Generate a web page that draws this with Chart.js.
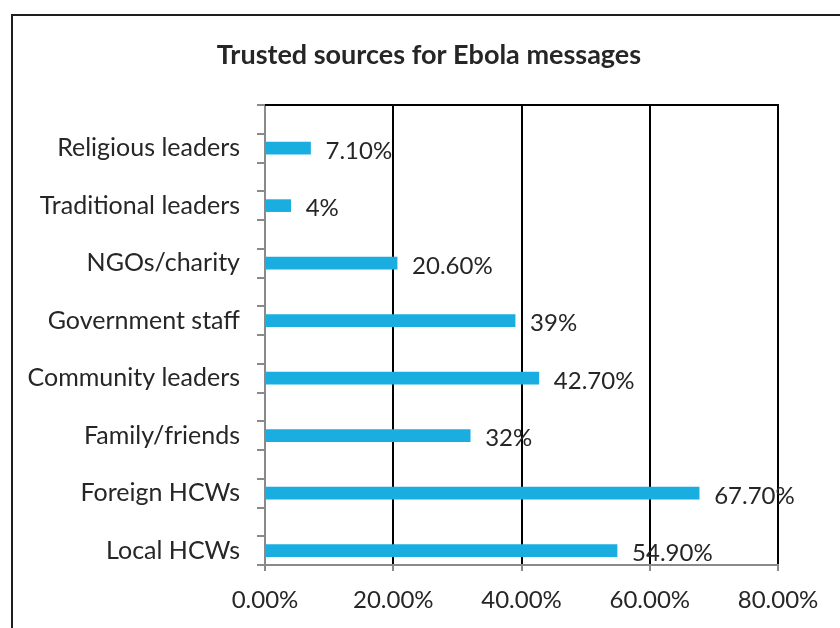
<!DOCTYPE html>
<html>
<head>
<meta charset="utf-8">
<script src="https://cdn.jsdelivr.net/npm/chart.js@4.4.1/dist/chart.umd.min.js"></script>
<style>
html,body{margin:0;padding:0;background:#fff;}
#wrap{position:relative;width:840px;height:628px;}
</style>
</head>
<body>
<div id="wrap"><canvas id="c" width="840" height="628"></canvas></div>
<script>
const chartTitle = "Trusted sources for Ebola messages";
const categories = ["Religious leaders","Traditional leaders","NGOs/charity","Government staff","Community leaders","Family/friends","Foreign HCWs","Local HCWs"];
const values = [7.1, 4, 20.6, 39, 42.7, 32, 67.7, 54.9];
const valueLabels = ["7.10%","4%","20.60%","39%","42.70%","32%","67.70%","54.90%"];
const xTicks = [0, 20, 40, 60, 80];

// Each category occupies two axis slots (an empty upper slot and the bar slot), as in the original axis.
const slotLabels = [];
const slotValues = [];
const slotText = [];
categories.forEach((c, i) => {
  slotLabels.push(""); slotValues.push(null); slotText.push(null);
  slotLabels.push(c); slotValues.push(values[i]); slotText.push(valueLabels[i]);
});

const FONT = "Lato, 'Open Sans', sans-serif";
const TXT = "#262626";

const framePlugin = {
  id: 'frame',
  beforeDraw(chart) {
    const ctx = chart.ctx;
    ctx.save();
    ctx.fillStyle = '#fff';
    ctx.fillRect(0, 0, chart.width, chart.height);
    ctx.strokeStyle = '#1e1e1e';
    ctx.lineWidth = 2;
    ctx.beginPath();
    ctx.moveTo(12, chart.height);
    ctx.lineTo(12, 15);
    ctx.lineTo(chart.width, 15);
    ctx.stroke();
    ctx.restore();
  },
  afterDraw(chart) {
    const ctx = chart.ctx;
    const a = chart.chartArea;
    ctx.save();
    ctx.strokeStyle = '#000';
    ctx.lineWidth = 2;
    ctx.beginPath();
    ctx.moveTo(a.left, a.top);
    ctx.lineTo(a.right + 1, a.top);
    ctx.stroke();
    ctx.fillStyle = TXT;
    ctx.font = "bold 27px " + FONT;
    ctx.textAlign = 'center';
    ctx.textBaseline = 'middle';
    ctx.fillText(chartTitle, 429, 55);
    ctx.font = "24px " + FONT;
    ctx.textAlign = 'left';
    const meta = chart.getDatasetMeta(0);
    meta.data.forEach((bar, i) => {
      if (slotText[i] === null) return;
      ctx.fillText(slotText[i], bar.x + 15, bar.y + 3);
    });
    ctx.restore();
  }
};

new Chart(document.getElementById('c'), {
  type: 'bar',
  data: {
    labels: slotLabels,
    datasets: [{
      data: slotValues,
      backgroundColor: '#1aade0',
      borderWidth: 0,
      barThickness: 12
    }]
  },
  options: {
    indexAxis: 'y',
    responsive: false,
    animation: false,
    devicePixelRatio: 1,
    layout: { padding: { left: 12, top: 105, right: 62, bottom: 0 } },
    plugins: { legend: { display: false }, title: { display: false }, tooltip: { enabled: false } },
    scales: {
      x: {
        min: 0, max: 80,
        afterBuildTicks(scale) { scale.ticks = xTicks.map(v => ({ value: v })); },
        afterFit(scale) { scale.height = 63; },
        ticks: {
          callback: v => v.toFixed(2) + '%',
          font: { family: FONT, size: 24 },
          color: TXT,
          padding: 15,
          maxRotation: 0
        },
        grid: {
          color: ctx => ctx.index === 0 ? 'rgba(0,0,0,0)' : '#000',
          lineWidth: 2,
          tickColor: '#8a8a8a',
          tickLength: 6,
          drawTicks: true
        },
        border: { color: '#8a8a8a', width: 2 }
      },
      y: {
        afterFit(scale) { scale.width = 253; },
        ticks: {
          font: { family: FONT, size: 25 },
          color: TXT,
          padding: 17,
          autoSkip: false
        },
        grid: {
          offset: true,
          drawOnChartArea: false,
          color: '#8a8a8a',
          lineWidth: 2,
          tickLength: 8
        },
        border: { color: '#8a8a8a', width: 2 }
      }
    }
  },
  plugins: [framePlugin]
});
</script>
</body>
</html>
